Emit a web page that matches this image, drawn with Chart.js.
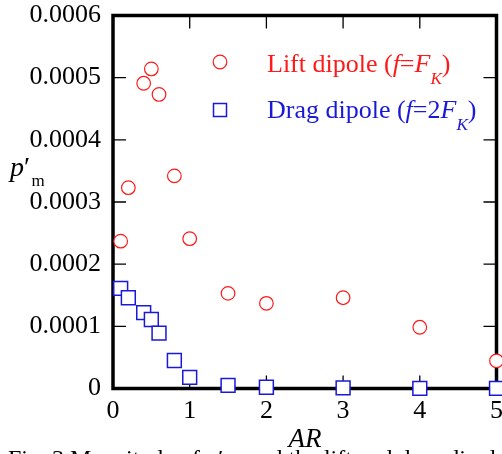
<!DOCTYPE html>
<html><head><meta charset="utf-8">
<script src="https://cdn.jsdelivr.net/npm/chart.js@4/dist/chart.umd.min.js"></script>
<style>
html,body{margin:0;padding:0;overflow:hidden;background:#fff;width:502px;height:454px}
#wrap{position:absolute;left:0;top:0;width:530px;height:454px}
</style>
</head><body>
<div id="wrap"><canvas id="c" width="530" height="454"></canvas></div>
<script>
// ---- data ----
const liftAR = [0.1, 0.2, 0.4, 0.5, 0.6, 0.8, 1.0, 1.5, 2, 3, 4, 5];
const liftP  = [0.000237, 0.000323, 0.000491, 0.000514, 0.000473, 0.000342, 0.000241, 0.000153, 0.000137, 0.000146, 0.0000985, 0.0000445];
const dragAR = [0.1, 0.2, 0.4, 0.5, 0.6, 0.8, 1.0, 1.5, 2, 3, 4, 5];
const dragP  = [0.000161, 0.000146, 0.000122, 0.000111, 0.000089, 0.0000450, 0.0000180, 0.0000050, 0.0000020, 0.0000010, 0.0000003, 0.0000003];
const xTicks = [0, 1, 2, 3, 4, 5];
const yTicks = [0, 0.0001, 0.0002, 0.0003, 0.0004, 0.0005, 0.0006];
const liftLabel = 'Lift dipole';
const dragLabel = 'Drag dipole';
const xTitle = 'AR';
const caption = 'Fig. 3 Magnitude of p\u2032m and the lift and drag dipoles';

const SERIF = '"Liberation Serif", "Times New Roman", serif';
const RED = 'rgb(255,25,25)';
const BLUE = 'rgb(25,25,215)';

function rich(ctx, x, y, segs, color, size) {
  ctx.fillStyle = color; ctx.textBaseline = 'alphabetic'; ctx.textAlign = 'left';
  for (const s of segs) {
    const fs = s.sub ? size * 0.66 : size;
    ctx.font = (s.it ? 'italic ' : '') + fs + 'px ' + SERIF;
    ctx.fillText(s.t, x, y + (s.sub ? size * 0.46 : 0));
    x += ctx.measureText(s.t).width;
  }
}

const frame = {
  id: 'frame',
  beforeDatasetsDraw(chart) {
    const { ctx, chartArea: a, scales: { x, y } } = chart;
    ctx.save();
    ctx.strokeStyle = '#000';
    ctx.lineWidth = 1.3;
    const L = 13;
    ctx.beginPath();
    for (const v of xTicks) {
      if (v === xTicks[0] || v === xTicks[xTicks.length - 1]) continue;
      const px = x.getPixelForValue(v);
      ctx.moveTo(px, a.top); ctx.lineTo(px, a.top + L);
      ctx.moveTo(px, a.bottom); ctx.lineTo(px, a.bottom - L);
    }
    for (const v of yTicks) {
      if (v === yTicks[0] || v === yTicks[yTicks.length - 1]) continue;
      const py = y.getPixelForValue(v);
      ctx.moveTo(a.left, py); ctx.lineTo(a.left + L, py);
      ctx.moveTo(a.right, py); ctx.lineTo(a.right - L, py);
    }
    ctx.stroke();
    ctx.lineWidth = 3.5;
    ctx.strokeRect(a.left, a.top, a.right - a.left, a.bottom - a.top);
    ctx.restore();
  },
  afterDraw(chart) {
    const ctx = chart.ctx;
    ctx.save();
    // legend markers
    ctx.lineWidth = 1.2; ctx.strokeStyle = RED; ctx.fillStyle = '#fff';
    ctx.beginPath(); ctx.arc(220, 62, 6.8, 0, Math.PI * 2); ctx.fill(); ctx.stroke();
    ctx.lineWidth = 1.5; ctx.strokeStyle = BLUE;
    ctx.fillRect(213.5, 103.5, 13, 13); ctx.strokeRect(213.5, 103.5, 13, 13);
    // legend text
    rich(ctx, 267, 72, [{t: liftLabel + ' ('}, {t: 'f', it: 1}, {t: '='}, {t: 'F', it: 1}, {t: 'K', it: 1, sub: 1}, {t: ')'}], RED, 26);
    rich(ctx, 267, 118, [{t: dragLabel + ' ('}, {t: 'f', it: 1}, {t: '=2'}, {t: 'F', it: 1}, {t: 'K', it: 1, sub: 1}, {t: ')'}], BLUE, 26);
    // y title p'm
    ctx.fillStyle = '#000'; ctx.textBaseline = 'alphabetic'; ctx.textAlign = 'left';
    ctx.font = 'italic 28px ' + SERIF; ctx.fillText('p', 10, 176);
    ctx.font = '28px ' + SERIF; ctx.fillText('\u2032', 24, 176);
    ctx.font = '17px ' + SERIF; ctx.fillText('m', 31.5, 186);
    // x title
    ctx.textAlign = 'center';
    ctx.font = 'italic 27px ' + SERIF; ctx.fillText(xTitle, 305, 447);
    // caption (cut off by the image bottom)
    ctx.textAlign = 'left';
    ctx.font = '24px ' + SERIF; ctx.fillText(caption, 8, 466);
    ctx.restore();
  }
};

new Chart(document.getElementById('c'), {
  type: 'scatter',
  data: {
    datasets: [
      { label: liftLabel, data: liftAR.map((v, i) => ({ x: v, y: liftP[i] })),
        pointStyle: 'circle', pointRadius: 6.8, pointHoverRadius: 6.8, borderWidth: 1.2,
        borderColor: RED, backgroundColor: '#fff', clip: false },
      { label: dragLabel, data: dragAR.map((v, i) => ({ x: v, y: dragP[i] })),
        pointStyle: 'rect', pointRadius: 9.8, pointHoverRadius: 9.8, borderWidth: 1.5,
        borderColor: BLUE, backgroundColor: '#fff', clip: false }
    ]
  },
  options: {
    responsive: false, animation: false, devicePixelRatio: 1,
    events: [],
    layout: { padding: { left: 0, right: 33.5, top: 15.5, bottom: 0 } },
    plugins: { legend: { display: false }, tooltip: { enabled: false } },
    scales: {
      x: {
        type: 'linear', min: 0, max: 5,
        grid: { display: false, drawTicks: false }, border: { display: false },
        afterBuildTicks: s => { s.ticks = xTicks.map(v => ({ value: v })); },
        afterFit: s => { s.height = 454 - 388.5; },
        ticks: { padding: 10, color: '#000', font: { family: SERIF, size: 26, lineHeight: 1 }, maxRotation: 0, autoSkip: false }
      },
      y: {
        type: 'linear', min: 0, max: 0.0006,
        grid: { display: false, drawTicks: false }, border: { display: false },
        afterBuildTicks: s => { s.ticks = yTicks.map(v => ({ value: v })); },
        afterFit: s => { s.width = 113; s.paddingTop = 0; s.paddingBottom = 0; },
        ticks: { padding: 12, color: '#000', font: { family: SERIF, size: 26, lineHeight: 1 },
          callback: v => v === 0 ? '0' : Number(v).toFixed(4) }
      }
    }
  },
  plugins: [frame]
});
</script>
</body></html>
